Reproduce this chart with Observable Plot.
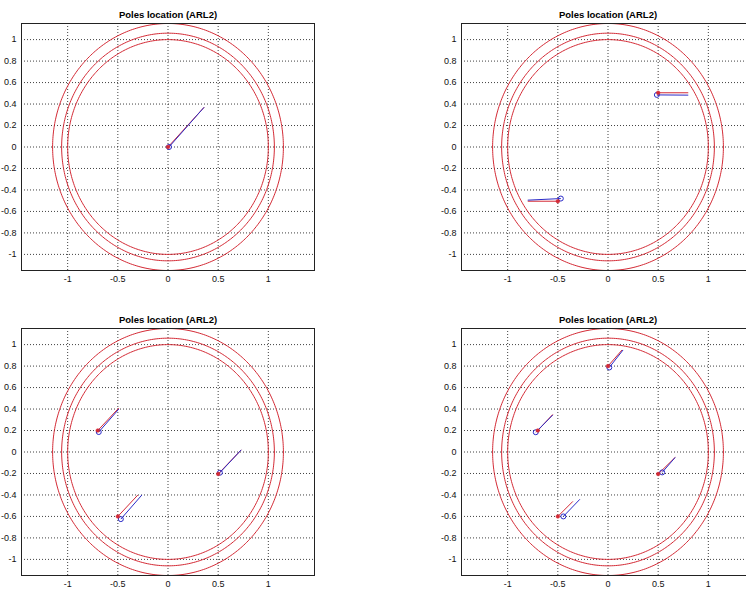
<!DOCTYPE html>
<html>
<head>
<meta charset="utf-8">
<script src="https://cdn.jsdelivr.net/npm/d3@7"></script>
<script src="https://cdn.jsdelivr.net/npm/@observablehq/plot@0.6"></script>
<style>
  html, body { margin: 0; padding: 0; background: #fff; }
  #wrap { position: relative; width: 746px; height: 594px; overflow: hidden; background: #fff; }
  .panel { position: absolute; width: 330px; height: 296px; }
  .panel svg { max-width: none !important; width: 330px; height: 296px; }
</style>
</head>
<body>
<div id="wrap"></div>
<script>
// ---- data ----
const titles = ["Poles location (ARL2)", "Poles location (ARL2)", "Poles location (ARL2)", "Poles location (ARL2)"];
const xTicks = [-1, -0.5, 0, 0.5, 1];
const yTicks = [-1, -0.8, -0.6, -0.4, -0.2, 0, 0.2, 0.4, 0.6, 0.8, 1];
const circleRadii = [1, 1.06, 1.15];

// true poles (red *) and their direction segments
const trueX    = [[0],    [0.50, -0.50], [-0.70, 0.50, -0.50], [0.00, -0.70, 0.50, -0.50]];
const trueY    = [[0],    [0.505, -0.505], [0.20, -0.205, -0.60], [0.80, 0.20, -0.205, -0.60]];
const trueEndX = [[0.36], [0.80, -0.80], [-0.49, 0.73, -0.30], [0.14, -0.55, 0.67, -0.35]];
const trueEndY = [[0.37], [0.505, -0.505], [0.41, 0.02, -0.40], [0.95, 0.35, -0.05, -0.46]];

// estimated poles (blue o) and their direction segments
const estX    = [[0.01], [0.487, -0.47], [-0.69, 0.517, -0.47], [0.013, -0.72, 0.54, -0.445]];
const estY    = [[0.00], [0.485, -0.48], [0.186, -0.193, -0.625], [0.787, 0.184, -0.19, -0.60]];
const estEndX = [[0.36], [0.80, -0.80], [-0.49, 0.73, -0.26], [0.15, -0.55, 0.67, -0.28]];
const estEndY = [[0.37], [0.483, -0.495], [0.40, 0.02, -0.40], [0.95, 0.345, -0.05, -0.44]];

// panel placement
const panelLeft = [0, 440, 0, 440];
const panelTop  = [0, 0, 305, 305];

// ---- drawing ----
const RED = "#d42a35";
const BLUE = "#2b2bc8";
const FONT = "'Liberation Sans', Arial, Helvetica, sans-serif";

const circlePts = circleRadii.flatMap(r =>
  d3.range(0, 361, 1).map(a => ({r, x: r * Math.cos(a * Math.PI / 180), y: r * Math.sin(a * Math.PI / 180)}))
);

const wrap = document.getElementById("wrap");

for (let p = 0; p < 4; p++) {
  const tru = trueX[p].map((x, i) => ({x, y: trueY[p][i], x2: trueEndX[p][i], y2: trueEndY[p][i]}));
  const est = estX[p].map((x, i) => ({x, y: estY[p][i], x2: estEndX[p][i], y2: estEndY[p][i]}));

  const chart = Plot.plot({
    width: 330,
    height: 296,
    marginLeft: 21,
    marginRight: 16,
    marginTop: 23,
    marginBottom: 26,
    style: {fontFamily: FONT, fontSize: "9px", color: "#111", background: "#fff", overflow: "visible", maxWidth: "none"},
    x: {domain: [-1.46, 1.46], ticks: xTicks, tickFormat: d => String(d), tickSize: 0, tickPadding: 5, label: null},
    y: {domain: [-1.15, 1.15], ticks: yTicks, tickFormat: d => String(d), tickSize: 0, tickPadding: 5, label: null},
    marks: [
      Plot.gridX(xTicks, {stroke: "#000", strokeOpacity: 0.75, strokeDasharray: "1,2"}),
      Plot.gridY(yTicks, {stroke: "#000", strokeOpacity: 0.75, strokeDasharray: "1,2"}),
      Plot.line(circlePts, {x: "x", y: "y", z: "r", stroke: RED, strokeWidth: 1, clip: true}),
      Plot.link(tru, {x1: "x", y1: "y", x2: "x2", y2: "y2", stroke: RED, strokeWidth: 1}),
      Plot.link(est, {x1: "x", y1: "y", x2: "x2", y2: "y2", stroke: BLUE, strokeWidth: 1}),
      Plot.dot(est, {x: "x", y: "y", r: 2.5, stroke: BLUE, strokeWidth: 1, fill: "none"}),
      Plot.dot(tru, {x: "x", y: "y", r: 1.8, fill: RED, stroke: RED, strokeWidth: 0.6}),
      Plot.frame({stroke: "#222", strokeWidth: 1}),
      Plot.text([titles[p]], {frameAnchor: "top", dy: -12, fontWeight: "bold", fontSize: 9.5, fill: "#000"}),
      Plot.axisX({ticks: xTicks, tickFormat: d => String(d), tickSize: 0, tickPadding: 5, label: null}),
      Plot.axisY({ticks: yTicks, tickFormat: d => String(d), tickSize: 0, tickPadding: 5, label: null})
    ]
  });
  const div = document.createElement("div");
  div.className = "panel";
  div.style.left = panelLeft[p] + "px";
  div.style.top = panelTop[p] + "px";
  div.appendChild(chart);
  wrap.appendChild(div);
}
</script>
</body>
</html>
